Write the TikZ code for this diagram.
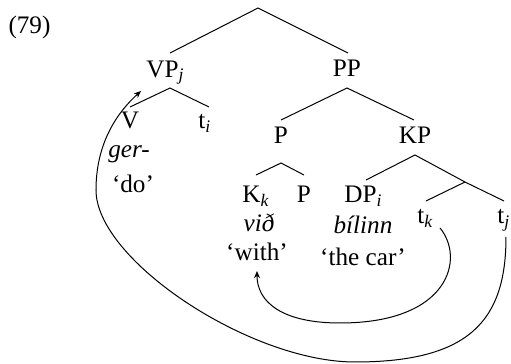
\documentclass[tikz,border=0pt]{standalone}
\usepackage{fontspec}
\setmainfont{Liberation Serif}
\usetikzlibrary{arrows.meta}
\begin{document}
\begin{tikzpicture}[x=0.5pt,y=-0.5pt,
  lab/.style={inner sep=0pt,anchor=base,font=\fontsize{12.6}{15}\selectfont},
  labw/.style={lab,anchor=base west},
  branch/.style={line width=0.5pt},
  mv/.style={line width=0.5pt,-{Stealth[length=3.6pt,width=3pt]}}]
\useasboundingbox (0,0) rectangle (511,364);
% labels
\node[lab] (num) at (29.5,33) {(79)};
\node[labw] (vp) at (146,77) {VP\textsubscript{\textit{j}}};
\node[lab] (pp) at (347,76) {PP};
\node[lab] (v) at (130,129) {V};
\node[labw] (ti) at (198,129) {t\textsubscript{\textit{i}}};
\node[lab] (ger) at (129,158) {\textit{ger-}};
\node[lab] (do) at (133,193) {‘do’};
\node[lab] (p1) at (281,144) {P};
\node[lab] (kp) at (415,144) {KP};
\node[labw] (kk) at (242,203) {K\textsubscript{\textit{k}}};
\node[lab] (p2) at (304,203) {P};
\node[labw] (dp) at (344,203) {DP\textsubscript{\textit{i}}};
\node[labw] (tk) at (417,224) {t\textsubscript{\textit{k}}};
\node[labw] (tj) at (497,224) {t\textsubscript{\textit{j}}};
\node[lab] (vid) at (259,232) {\textit{við}};
\node[lab] (bil) at (363,234) {\textit{bílinn}};
\node[lab] (with) at (257,261) {‘with’};
\node[lab] (car) at (363,266) {‘the car’};
% tree coordinates
\coordinate (root) at (258,8);
\coordinate (vpT) at (170,53);
\coordinate (ppT) at (348,53);
\coordinate (vpB) at (170,88);
\coordinate (vT) at (130,107);
\coordinate (tiT) at (209,107);
\coordinate (ppB) at (347,88);
\coordinate (p1T) at (281,120);
\coordinate (kpT) at (414,120);
\coordinate (p1B) at (281,163);
\coordinate (kkT) at (256,175);
\coordinate (p2T) at (304,175);
\coordinate (kpB) at (415,155);
\coordinate (dpT) at (366,180);
\coordinate (mid) at (465,182);
\coordinate (tkT) at (426,201);
\coordinate (tjT) at (504,201);
\draw[branch] (vpT) -- (root) -- (ppT);
\draw[branch] (vT) -- (vpB) -- (tiT);
\draw[branch] (p1T) -- (ppB) -- (kpT);
\draw[branch] (kkT) -- (p1B) -- (p2T);
\draw[branch] (dpT) -- (kpB) -- (mid) -- (tjT);
\draw[branch] (mid) -- (tkT);
% movement arrows
\coordinate (tkS) at (440,228);
\coordinate (withS) at (257,271);
\coordinate (tjS) at (506,237);
\coordinate (vpS) at (141,91);
\draw[mv] (tkS) .. controls (465,258) and (450,323) .. (340,323)
  .. controls (282,323) and (257,302) .. (withS);
\draw[mv] (tjS) .. controls (506,320) and (470,362) .. (355,362)
  .. controls (250,362) and (96,260) .. (96,190)
  .. controls (96,140) and (120,110) .. (vpS);
\end{tikzpicture}
\end{document}
